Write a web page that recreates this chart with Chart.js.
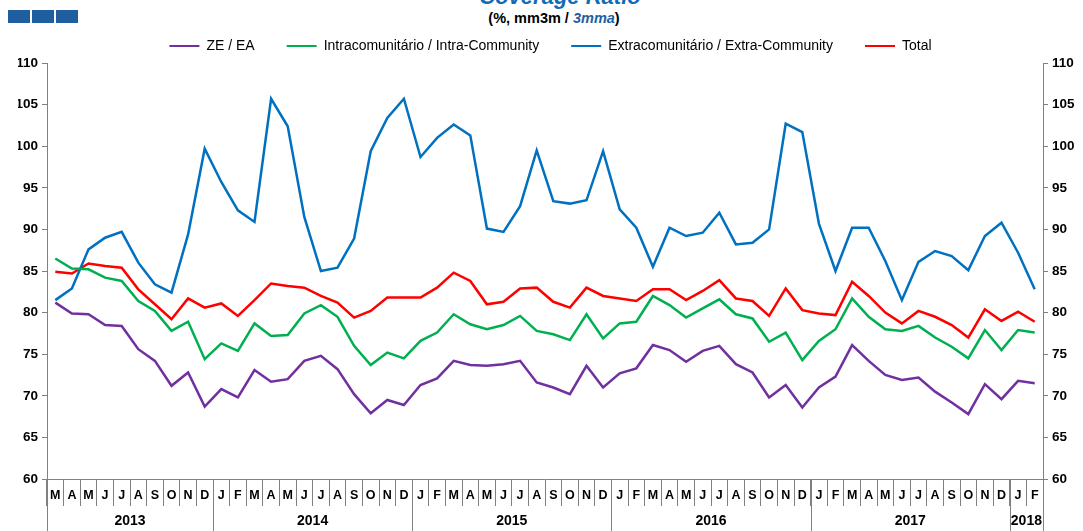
<!DOCTYPE html>
<html>
<head>
<meta charset="utf-8">
<script src="https://cdn.jsdelivr.net/npm/chart.js@4"></script>
<style>
  body { margin: 0; background: #fff; font-family: "Liberation Sans", Arial, sans-serif; }
  #wrap { position: relative; width: 1083px; height: 531px; overflow: hidden; }
  .sq { position: absolute; top: 10px; width: 22px; height: 13px; background: #1f5f9f; }
  #title { position: absolute; left: 0; width: 1120px; top: -16px; text-align: center;
           font: italic bold 22px "Liberation Sans", Arial, sans-serif; color: #0f6cb6; }
  #sub { position: absolute; left: 0; width: 1108px; top: 10px; text-align: center;
         font: bold 14.5px "Liberation Sans", Arial, sans-serif; color: #000; }
  #sub i { color: #1f5f9f; }
  canvas { position: absolute; left: 0; top: 0; }
</style>
</head>
<body>
<div id="wrap">
  <div class="sq" style="left:8px"></div>
  <div class="sq" style="left:32px"></div>
  <div class="sq" style="left:56px"></div>
  <div id="title">Coverage Ratio</div>
  <div id="sub">(%, mm3m / <i>3mma</i>)</div>
  <canvas id="chart" width="1083" height="531"></canvas>
</div>
<script>
// month letters, March 2013 .. February 2018
const months = ['M','A','M','J','J','A','S','O','N','D',
  'J','F','M','A','M','J','J','A','S','O','N','D',
  'J','F','M','A','M','J','J','A','S','O','N','D',
  'J','F','M','A','M','J','J','A','S','O','N','D',
  'J','F','M','A','M','J','J','A','S','O','N','D',
  'J','F'];
const years = ['2013','2014','2015','2016','2017','2018'];
const monthsPerYear = [10, 12, 12, 12, 12, 2];

const zeEa = [81.2,79.9,79.8,78.5,78.4,75.6,74.2,71.2,72.8,68.7,
  70.8,69.8,73.1,71.7,72.0,74.2,74.8,73.2,70.2,67.9,69.5,68.9,
  71.3,72.1,74.2,73.7,73.6,73.8,74.2,71.6,71.0,70.2,73.6,71.0,
  72.7,73.3,76.1,75.5,74.1,75.4,76.0,73.8,72.8,69.8,71.3,68.6,
  71.0,72.3,76.1,74.2,72.5,71.9,72.2,70.5,69.2,67.8,71.4,69.6,
  71.8,71.5];
const intra = [86.5,85.3,85.2,84.2,83.8,81.4,80.2,77.8,78.9,74.4,
  76.3,75.4,78.7,77.2,77.3,79.9,80.9,79.5,76.0,73.7,75.2,74.5,
  76.6,77.6,79.8,78.6,78.0,78.5,79.6,77.8,77.4,76.7,79.8,76.9,
  78.7,78.9,82.0,80.9,79.4,80.5,81.6,79.8,79.3,76.5,77.6,74.3,
  76.6,78.0,81.7,79.5,78.0,77.8,78.4,77.0,75.9,74.5,77.9,75.5,
  77.9,77.6];
const extra = [81.5,82.9,87.6,89.0,89.7,86.0,83.4,82.4,89.4,99.7,
  95.7,92.3,90.9,105.7,102.4,91.5,85.0,85.4,88.9,99.4,103.4,105.7,
  98.7,101.0,102.6,101.3,90.1,89.7,92.8,99.5,93.4,93.1,93.5,99.4,
  92.4,90.2,85.5,90.2,89.2,89.6,92.0,88.2,88.4,90.0,102.7,101.7,
  90.7,85.0,90.2,90.2,86.2,81.5,86.1,87.4,86.8,85.1,89.2,90.8,
  87.2,82.8];
const total = [84.9,84.7,85.9,85.6,85.4,82.8,81.0,79.2,81.7,80.6,
  81.1,79.6,81.5,83.5,83.2,83.0,82.0,81.2,79.4,80.2,81.8,81.8,
  81.8,83.0,84.8,83.8,81.0,81.3,82.9,83.0,81.3,80.6,83.0,82.0,
  81.7,81.4,82.8,82.8,81.5,82.6,83.9,81.7,81.4,79.6,82.9,80.3,
  79.9,79.7,83.7,82.0,80.0,78.7,80.2,79.5,78.5,77.0,80.4,79.0,
  80.1,78.9];

const FONT = '"Liberation Sans", Arial, sans-serif';
const GREY = '#808080';

function line(label, data, color) {
  return { label, data, borderColor: color, backgroundColor: color,
    borderWidth: 2.5, pointRadius: 0, tension: 0, yAxisID: 'y' };
}

// year row under the month letters
const yearRow = {
  id: 'yearRow',
  afterDraw(chart) {
    const ctx = chart.ctx, x = chart.scales.x, area = chart.chartArea;
    const half = (x.getPixelForValue(1) - x.getPixelForValue(0)) / 2;
    const bottom = chart.height;
    ctx.save();
    ctx.strokeStyle = GREY;
    ctx.lineWidth = 1;
    ctx.fillStyle = '#000';
    ctx.font = 'bold 14px ' + FONT;
    ctx.textAlign = 'center';
    ctx.textBaseline = 'middle';
    let start = 0;
    years.forEach((yr, k) => {
      const end = start + monthsPerYear[k] - 1;
      const left = x.getPixelForValue(start) - half;
      const right = x.getPixelForValue(end) + half;
      ctx.beginPath();
      ctx.moveTo(Math.round(left) + 0.5, area.bottom);
      ctx.lineTo(Math.round(left) + 0.5, bottom);
      ctx.moveTo(Math.round(right) + 0.5, area.bottom);
      ctx.lineTo(Math.round(right) + 0.5, bottom);
      ctx.stroke();
      ctx.fillText(yr, (left + right) / 2, 521);
      start = end + 1;
    });
    ctx.restore();
  }
};

const yAxis = (pos, w) => ({
  position: pos, min: 60, max: 110,
  ticks: { stepSize: 5, color: '#000', padding: 4, font: { family: FONT, size: 13.5, weight: 'bold' } },
  grid: { drawOnChartArea: false, tickLength: 5, color: GREY },
  border: { color: GREY, width: 1 },
  afterFit(s) { s.width = w; }
});

new Chart(document.getElementById('chart'), {
  type: 'line',
  data: {
    labels: months,
    datasets: [
      line('ZE / EA', zeEa, '#7030a0'),
      line('Intracomunitário / Intra-Community', intra, '#00b050'),
      line('Extracomunitário / Extra-Community', extra, '#0070c0'),
      line('Total', total, '#ff0000')
    ]
  },
  options: {
    responsive: false,
    animation: false,
    layout: { padding: { top: 7, left: 18, right: 0, bottom: 0 } },
    plugins: {
      legend: {
        position: 'top',
        labels: {
          color: '#000', boxWidth: 30, boxHeight: 2, padding: 32,
          font: { family: FONT, size: 14 },
          generateLabels(chart) {
            const items = Chart.defaults.plugins.legend.labels.generateLabels(chart);
            items.forEach(it => { it.fillStyle = it.strokeStyle; it.lineWidth = 0; });
            return items;
          }
        }
      },
      tooltip: { enabled: false }
    },
    scales: {
      x: {
        offset: true,
        grid: { offset: true, drawOnChartArea: false, tickLength: 27, color: GREY },
        border: { color: GREY, width: 1 },
        ticks: { color: '#000', padding: -18, autoSkip: false, maxRotation: 0,
                 font: { family: FONT, size: 12.5, weight: 'bold' } },
        afterFit(s) { s.height = 52; }
      },
      y: yAxis('left', 29),
      y2: yAxis('right', 40)
    }
  },
  plugins: [yearRow]
});
</script>
</body>
</html>
